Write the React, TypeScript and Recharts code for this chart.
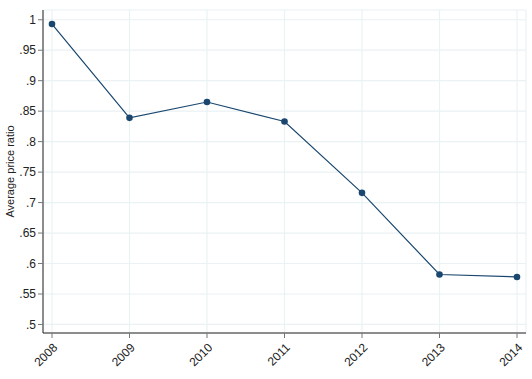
import { LineChart, Line, XAxis, YAxis, CartesianGrid } from "recharts";

const years = ["2008", "2009", "2010", "2011", "2012", "2013", "2014"];
const priceRatio = [0.993, 0.839, 0.865, 0.833, 0.716, 0.582, 0.578];
const yTicks = [0.5, 0.55, 0.6, 0.65, 0.7, 0.75, 0.8, 0.85, 0.9, 0.95, 1];

const data = years.map((year, i) => ({ year, ratio: priceRatio[i] }));

const fmt = (v: number) => (v === 1 ? "1" : String(v).replace(/^0/, ""));

const XTick = (props: any) => {
  const { x, y, payload } = props;
  const ax = x + 4;
  const ay = y + 6;
  return (
    <text x={ax} y={ay} textAnchor="end" fontSize={12} fill="#222" transform={`rotate(-45, ${ax}, ${ay})`} dominantBaseline="middle">
      {payload.value}
    </text>
  );
};

const YLabel = (props: any) => {
  const { viewBox } = props;
  const cy = viewBox.y + viewBox.height / 2;
  return (
    <text x={10} y={cy} textAnchor="middle" fontSize={11} fill="#222" transform={`rotate(-90, 10, ${cy})`} dominantBaseline="central">
      Average price ratio
    </text>
  );
};

export default function App() {
  return (
    <div style={{ position: "absolute", left: 0, top: 0, background: "#fff", fontFamily: "'Liberation Sans', Arial, sans-serif" }}>
      <LineChart width={532} height={379} data={data} margin={{ top: 10, right: 6, left: 0, bottom: 0 }}>
        <CartesianGrid stroke="#eaf2f3" strokeWidth={1.2} />
        <XAxis
          dataKey="year"
          interval={0}
          padding={{ left: 9, right: 9 }}
          height={46}
          tick={<XTick />}
          tickSize={5}
          axisLine={{ stroke: "#222" }}
          tickLine={{ stroke: "#777" }}
        />
        <YAxis
          domain={[0.486, 1.016]}
          ticks={yTicks}
          tickFormatter={fmt}
          width={43}
          tickSize={5}
          tick={{ fontSize: 12, fill: "#222" }}
          axisLine={{ stroke: "#222" }}
          tickLine={{ stroke: "#777" }}
          allowDataOverflow
          label={<YLabel />}
        />
        <Line
          type="linear"
          dataKey="ratio"
          stroke="#1a476f"
          strokeWidth={1.2}
          dot={{ r: 3.3, fill: "#1a476f", stroke: "#1a476f", strokeWidth: 0 }}
          isAnimationActive={false}
        />
      </LineChart>
    </div>
  );
}
